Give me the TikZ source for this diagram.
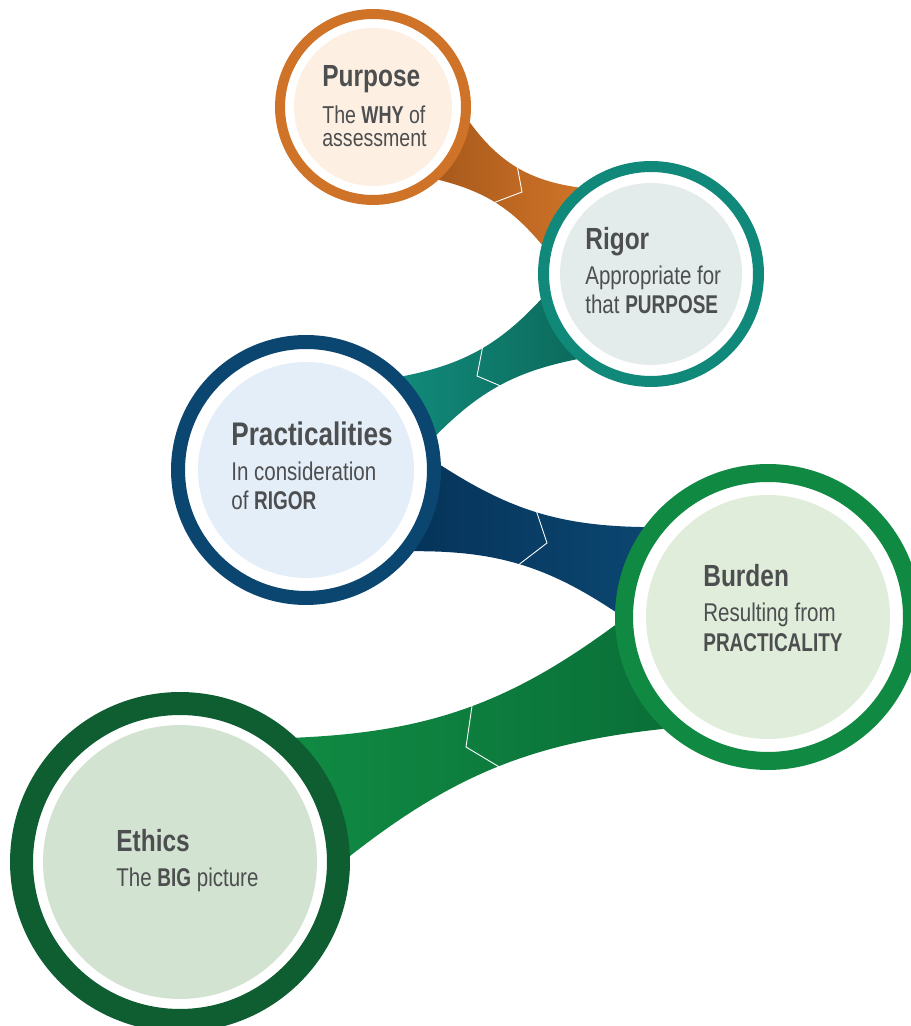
\documentclass[tikz,border=0pt]{standalone}
\usepackage{fontspec}
\setmainfont[FakeStretch=0.8]{Liberation Sans}
\newfontface\keyface[FakeStretch=0.74]{Liberation Sans Bold}
\newcommand\keyword[1]{{\keyface #1}}
\usepackage{tikz}
\usetikzlibrary{positioning}

\definecolor{txt}{HTML}{4D4E50}
\definecolor{purposeC}{HTML}{CF7328}
\definecolor{purposeD}{HTML}{A85A1C}
\definecolor{purposeF}{HTML}{FDF0E2}
\definecolor{rigorC}{HTML}{11897A}
\definecolor{rigorD}{HTML}{0C6B5C}
\definecolor{rigorF}{HTML}{E3ECEA}
\definecolor{practC}{HTML}{0B4670}
\definecolor{practD}{HTML}{06345A}
\definecolor{practF}{HTML}{E4EEF8}
\definecolor{burdenC}{HTML}{108A43}
\definecolor{burdenD}{HTML}{0A7038}
\definecolor{burdenF}{HTML}{DFEDDA}
\definecolor{ethicsC}{HTML}{0F5E32}
\definecolor{ethicsF}{HTML}{D3E3D1}

\pgfdeclarelayer{bands}
\pgfsetlayers{bands,main}

\begin{document}
\begin{tikzpicture}[x=0.02cm,y=0.02cm,
    ring/.style={circle,inner sep=0pt,fill=white},
    core/.style={circle,inner sep=0pt},
    chevron/.style={draw=white,line width=0.5pt},
    heading/.style={anchor=base west,inner sep=0pt,text=txt,font=\bfseries\fontsize{17.4}{20}\selectfont},
    bodyline/.style={anchor=base west,inner sep=0pt,text=txt,font=\fontsize{14.6}{17}\selectfont}]
    \useasboundingbox (0,0) rectangle (910,1026);

    \node[ring,draw=purposeC,line width=0.2cm,minimum size=3.72cm] (purpose) at (373,919) {};
    \node[core,fill=purposeF,minimum size=3.16cm] (purposeIn) at (purpose) {};
    \node[ring,draw=rigorC,line width=0.22cm,minimum size=4.30cm] (rigor) at (651,752) {};
    \node[core,fill=rigorF,minimum size=3.64cm] (rigorIn) at (rigor) {};
    \node[ring,draw=practC,line width=0.28cm,minimum size=5.12cm] (pract) at (306,556) {};
    \node[core,fill=practF,minimum size=4.32cm] (practIn) at (pract) {};
    \node[ring,draw=burdenC,line width=0.36cm,minimum size=5.76cm] (burden) at (768,409) {};
    \node[core,fill=burdenF,minimum size=4.88cm] (burdenIn) at (burden) {};
    \node[ring,draw=ethicsC,line width=0.46cm,minimum size=6.34cm] (ethics) at (180,164) {};
    \node[core,fill=ethicsF,minimum size=5.48cm] (ethicsIn) at (ethics) {};

    \begin{pgfonlayer}{bands}
        \path[left color=purposeD,middle color=purposeC,right color=purposeC]
            (purpose.-9) to[bend right=23] (rigor.130) -- (rigor.165)
            to[bend right=18] (purpose.-48) -- cycle;
        \path[left color=rigorC,middle color=rigorC,right color=rigorD]
            (rigor.193) to[bend left=18] (pract.44) -- (pract.15)
            to[bend left=17] (rigor.229) -- cycle;
        \path[left color=practD,middle color=practC,right color=practC]
            (pract.2) to[bend right=16] (burden.144) -- (burden.178)
            to[bend right=17] (pract.-37) -- cycle;
        \path[left color=burdenC,middle color=burdenC,right color=burdenD]
            (burden.183) to[bend left=17] (ethics.47) -- (ethics.2)
            to[bend left=16] (burden.227) -- cycle;
    \end{pgfonlayer}

    \draw[chevron] (517,861) -- (522,834) -- (493,823);
    \draw[chevron] (483,681) -- (477,650) -- (503,639);
    \draw[chevron] (536,516) -- (547,483) -- (517,460);
    \draw[chevron] (472,320) -- (466,279) -- (501,258);

    \node[heading] (purposeTitle) at (322,939) {Purpose};
    \node[bodyline,font=\fontsize{13.9}{16}\selectfont] (purposeA) at (322,902) {The \keyword{WHY} of};
    \node[bodyline,font=\fontsize{13.9}{16}\selectfont] (purposeB) at (322,879) {assessment};

    \node[heading] (rigorTitle) at (585,776) {Rigor};
    \node[bodyline] (rigorA) at (585,741) {Appropriate for};
    \node[bodyline] (rigorB) at (585,712) {that \keyword{PURPOSE}};

    \node[heading,font=\bfseries\fontsize{18.6}{21}\selectfont] (practTitle) at (231,580) {Practicalities};
    \node[bodyline] (practA) at (231,545) {In consideration};
    \node[bodyline] (practB) at (231,516) {of \keyword{RIGOR}};

    \node[heading] (burdenTitle) at (703,439) {Burden};
    \node[bodyline] (burdenA) at (703,404) {Resulting from};
    \node[bodyline] (burdenB) at (703,374) {\keyword{PRACTICALITY}};

    \node[heading] (ethicsTitle) at (116,174) {Ethics};
    \node[bodyline] (ethicsA) at (116,139) {The \keyword{BIG} picture};
\end{tikzpicture}
\end{document}
